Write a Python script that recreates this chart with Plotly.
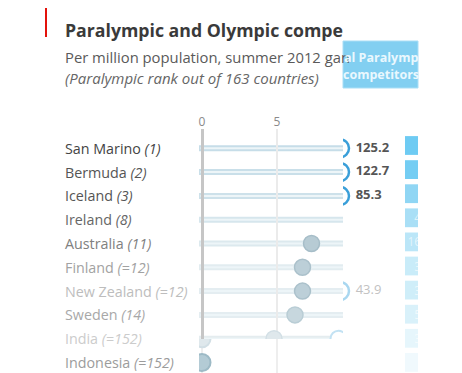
import plotly.graph_objects as go

OFF = 8                      # page body margin in the browser
W, H = 462 - OFF, 373 - OFF  # figure fills the rest of the window
FONT = "Open Sans"

# ---------------- data ----------------
countries = ["San Marino", "Bermuda", "Iceland", "Ireland", "Australia",
             "Finland", "New Zealand", "Sweden", "India", "Indonesia"]
ranks = ["1", "2", "3", "8", "11", "=12", "=12", "14", "=152", "=152"]
# Paralympic competitors per million (grey dots visible in the picture)
paralympic_upper = [None, None, None, None, 7.3, 6.7, 6.7, 6.2, 4.8, None]
paralympic_lower = [None, None, None, None, None, None, None, None, 0.0, 0.0]
# ghost (transitioning) olympic ring on row 9
olympic_ghost = [None, None, None, None, None, None, None, None, 9.1, None]
# Olympic competitors per million, off the scale (labelled at the right)
olympic = [125.2, 122.7, 85.3, None, None, None, 43.9, None, None, None]
# Total Paralympic competitors (table column, only left edge visible)
total_para = [1, 1, 4, 49, 161, 36, 30, 58, 30, 4]
tick_vals = [0, 5]

rows = list(range(len(countries)))

# ---------------- helpers (arguments are window pixels) ----------------
def px_x(p):
    return (p - OFF) / W

def px_y(p):
    return 1 - (p - OFF) / H

ROW0, STEP = 148.3, 23.8
XPX0, SCALE = 202, 15.0
X_LEFT, X_RIGHT = 199, 343
Y_TOP, Y_SPLIT = 129, 339
x_range = [(X_LEFT - XPX0) / SCALE, (X_RIGHT - XPX0) / SCALE]
XMAX_SHOWN = (340 - XPX0) / SCALE

def yr(top, bottom):
    return [(bottom - ROW0) / STEP, (top - ROW0) / STEP]

label_cols = ["#444444", "#555555", "#555555", "#666666", "#808080",
              "#a2a2a2", "#bdbdbd", "#a8a8a8", "#cccccc", "#9c9c9c"]
para_fill = [None, None, None, None, "#b7cbd4", "#bccfd8", "#bccfd8", "#c7d7de", "#dfe8ec", "#b3cbd5"]
para_line = [None, None, None, None, "#a6bdc8", "#abc1cb", "#abc1cb", "#b9cdd5", "#d2dfe5", "#9dbac6"]
cell_cols = ["#6ecbf3", "#74cdf3", "#90d6f4", "#a9dff6", "#bbe6f8", "#c9ecf9",
             "#cfeef9", "#d9f1fa", "#e6f6fc", "#f0f9fd"]
track_outer = ["#c6dde8", "#c9dfe9", "#cde1ea", "#d6e6ed", "#dce9ee",
               "#e2ecf0", "#e4edf1", "#e4edf1", "#e4ecef"]

fig = go.Figure()

# grey paralympic dots (upper panel)
fig.add_trace(go.Scatter(
    x=paralympic_upper, y=rows, xaxis="x", yaxis="y", mode="markers",
    marker=dict(size=16, color=[c or "#fff" for c in para_fill],
                line=dict(width=1.5, color=[c or "#fff" for c in para_line])),
    hoverinfo="skip", cliponaxis=True))
# ghost olympic ring (upper panel, row 9)
fig.add_trace(go.Scatter(
    x=olympic_ghost, y=rows, xaxis="x", yaxis="y", mode="markers",
    marker=dict(size=16, color="white", line=dict(width=2, color="#c3e2f3")),
    hoverinfo="skip", cliponaxis=True))
# lower panel dots
fig.add_trace(go.Scatter(
    x=paralympic_lower, y=rows, xaxis="x2", yaxis="y2", mode="markers",
    marker=dict(size=17, color=[c or "#fff" for c in para_fill],
                line=dict(width=2, color=[c or "#fff" for c in para_line])),
    hoverinfo="skip", cliponaxis=True))

# olympic off-scale rings + value labels
oly_x = [XMAX_SHOWN if v is not None else None for v in olympic]
oly_text = [(" <b>%.1f</b>" % v if i < 3 else " %.1f" % v) if v is not None else ""
            for i, v in enumerate(olympic)]
oly_ring = ["#3a9fd9", "#3a9fd9", "#3a9fd9", None, None, None, "#a9d7f0", None, None, None]
oly_tcol = ["#555555", "#555555", "#555555", "#fff", "#fff", "#fff", "#c2c2c2", "#fff", "#fff", "#fff"]
fig.add_trace(go.Scatter(
    x=oly_x, y=rows, xaxis="x3", yaxis="y", mode="markers+text",
    text=oly_text, textposition="middle right",
    textfont=dict(family=FONT, size=13, color=oly_tcol),
    marker=dict(size=18, symbol="circle-open", color=[c or "#fff" for c in oly_ring],
                line=dict(width=2.5)),
    hoverinfo="skip", cliponaxis=True))

# table column cells (left edge visible only)
CELL = 1.0
fig.add_trace(go.Bar(
    x=[CELL] * len(rows), y=rows, orientation="h", xaxis="x4", yaxis="y4",
    width=0.78, marker=dict(color=cell_cols, line=dict(width=0)),
    text=[str(v) for v in total_para], textposition="inside", textangle=0,
    insidetextanchor="end", constraintext="none",
    textfont=dict(family=FONT, size=12, color="rgba(255,255,255,0.6)"),
    hoverinfo="skip", cliponaxis=True))

# ---------------- shapes ----------------
shapes = []
for i, c in enumerate(track_outer):
    shapes.append(dict(type="line", xref="x domain", yref="y", x0=0, x1=1, y0=i, y1=i,
                       line=dict(color=c, width=6), layer="below"))
    shapes.append(dict(type="line", xref="x domain", yref="y", x0=0.01, x1=1, y0=i, y1=i,
                       line=dict(color="#edf5f8", width=2), layer="below"))
# red accent line
shapes.append(dict(type="line", xref="paper", yref="paper", x0=px_x(46), x1=px_x(46),
                   y0=px_y(-2), y1=px_y(37), line=dict(color="#e3120b", width=2)))
# header box
shapes.append(dict(type="rect", xref="paper", yref="paper", x0=px_x(343), x1=px_x(418),
                   y0=px_y(88), y1=px_y(41), fillcolor="#82cff1",
                   line=dict(color="#a9def6", width=1)))

# ---------------- annotations ----------------
ann = []
def paper_text(txt, x, y, size, color):
    ann.append(dict(text=txt, x=px_x(x), y=px_y(y), xref="paper", yref="paper",
                    xanchor="left", yanchor="middle", showarrow=False,
                    font=dict(family=FONT, size=size, color=color)))

paper_text("<b>Paralympic and Olympic compe</b>", 63, 30, 17.7, "#3a3a3a")
paper_text("Per million population, summer 2012 gan", 63, 57, 14.8, "#5a5a5a")
paper_text("<i>(Paralympic rank out of 163 countries)</i>", 63, 78, 15, "#666666")
paper_text("<b>al Paralymp</b>", 342, 57, 12.5, "#eaf8fe")
paper_text("<b>competitors</b>", 341, 74, 12.5, "#eaf8fe")
for i, (c, r) in enumerate(zip(countries, ranks)):
    ann.append(dict(text="%s <i>(%s)</i>" % (c, r), x=px_x(63), y=i,
                    xref="paper", yref="y" if i < 9 else "y2",
                    xanchor="left", yanchor="middle", showarrow=False,
                    font=dict(family=FONT, size=14.3, color=label_cols[i])))

fig.update_layout(
    width=W, height=H, margin=dict(l=0, r=0, t=0, b=0),
    paper_bgcolor="white", plot_bgcolor="rgba(0,0,0,0)",
    showlegend=False, shapes=shapes, annotations=ann,
    font=dict(family=FONT),
    xaxis=dict(domain=[px_x(X_LEFT), px_x(X_RIGHT)], range=x_range, side="top",
               anchor="y", tickvals=tick_vals, ticks="", showline=False,
               tickfont=dict(family=FONT, size=12, color="#8a8a8a"),
               showgrid=True, gridcolor="#ebebeb", gridwidth=1.5,
               zeroline=True, zerolinecolor="#c6c6c6", zerolinewidth=2.5, fixedrange=True),
    yaxis=dict(domain=[px_y(Y_SPLIT), px_y(Y_TOP)], range=yr(Y_TOP, Y_SPLIT),
               anchor="x", visible=False, fixedrange=True),
    xaxis2=dict(domain=[px_x(X_LEFT), px_x(X_RIGHT)], range=x_range, anchor="y2",
                tickvals=tick_vals, showticklabels=False, ticks="", showline=False,
                showgrid=True, gridcolor="#eeeeee", gridwidth=1.5,
                zeroline=False, fixedrange=True),
    yaxis2=dict(domain=[0, px_y(Y_SPLIT)], range=yr(Y_SPLIT, 373), anchor="x2",
                visible=False, fixedrange=True),
    xaxis3=dict(domain=[px_x(343), px_x(404)],
                range=[x_range[1], x_range[1] + (404 - 343) / SCALE],
                anchor="y", visible=False, fixedrange=True),
    xaxis4=dict(domain=[px_x(405), px_x(418)], range=[0, 0.5 * CELL], anchor="y4",
                visible=False, fixedrange=True),
    yaxis4=dict(domain=[0, px_y(130)], range=[(373 - 145.5) / 24.1, (130 - 145.5) / 24.1],
                anchor="x4", visible=False, fixedrange=True),
)

fig.write_html("out.html")
